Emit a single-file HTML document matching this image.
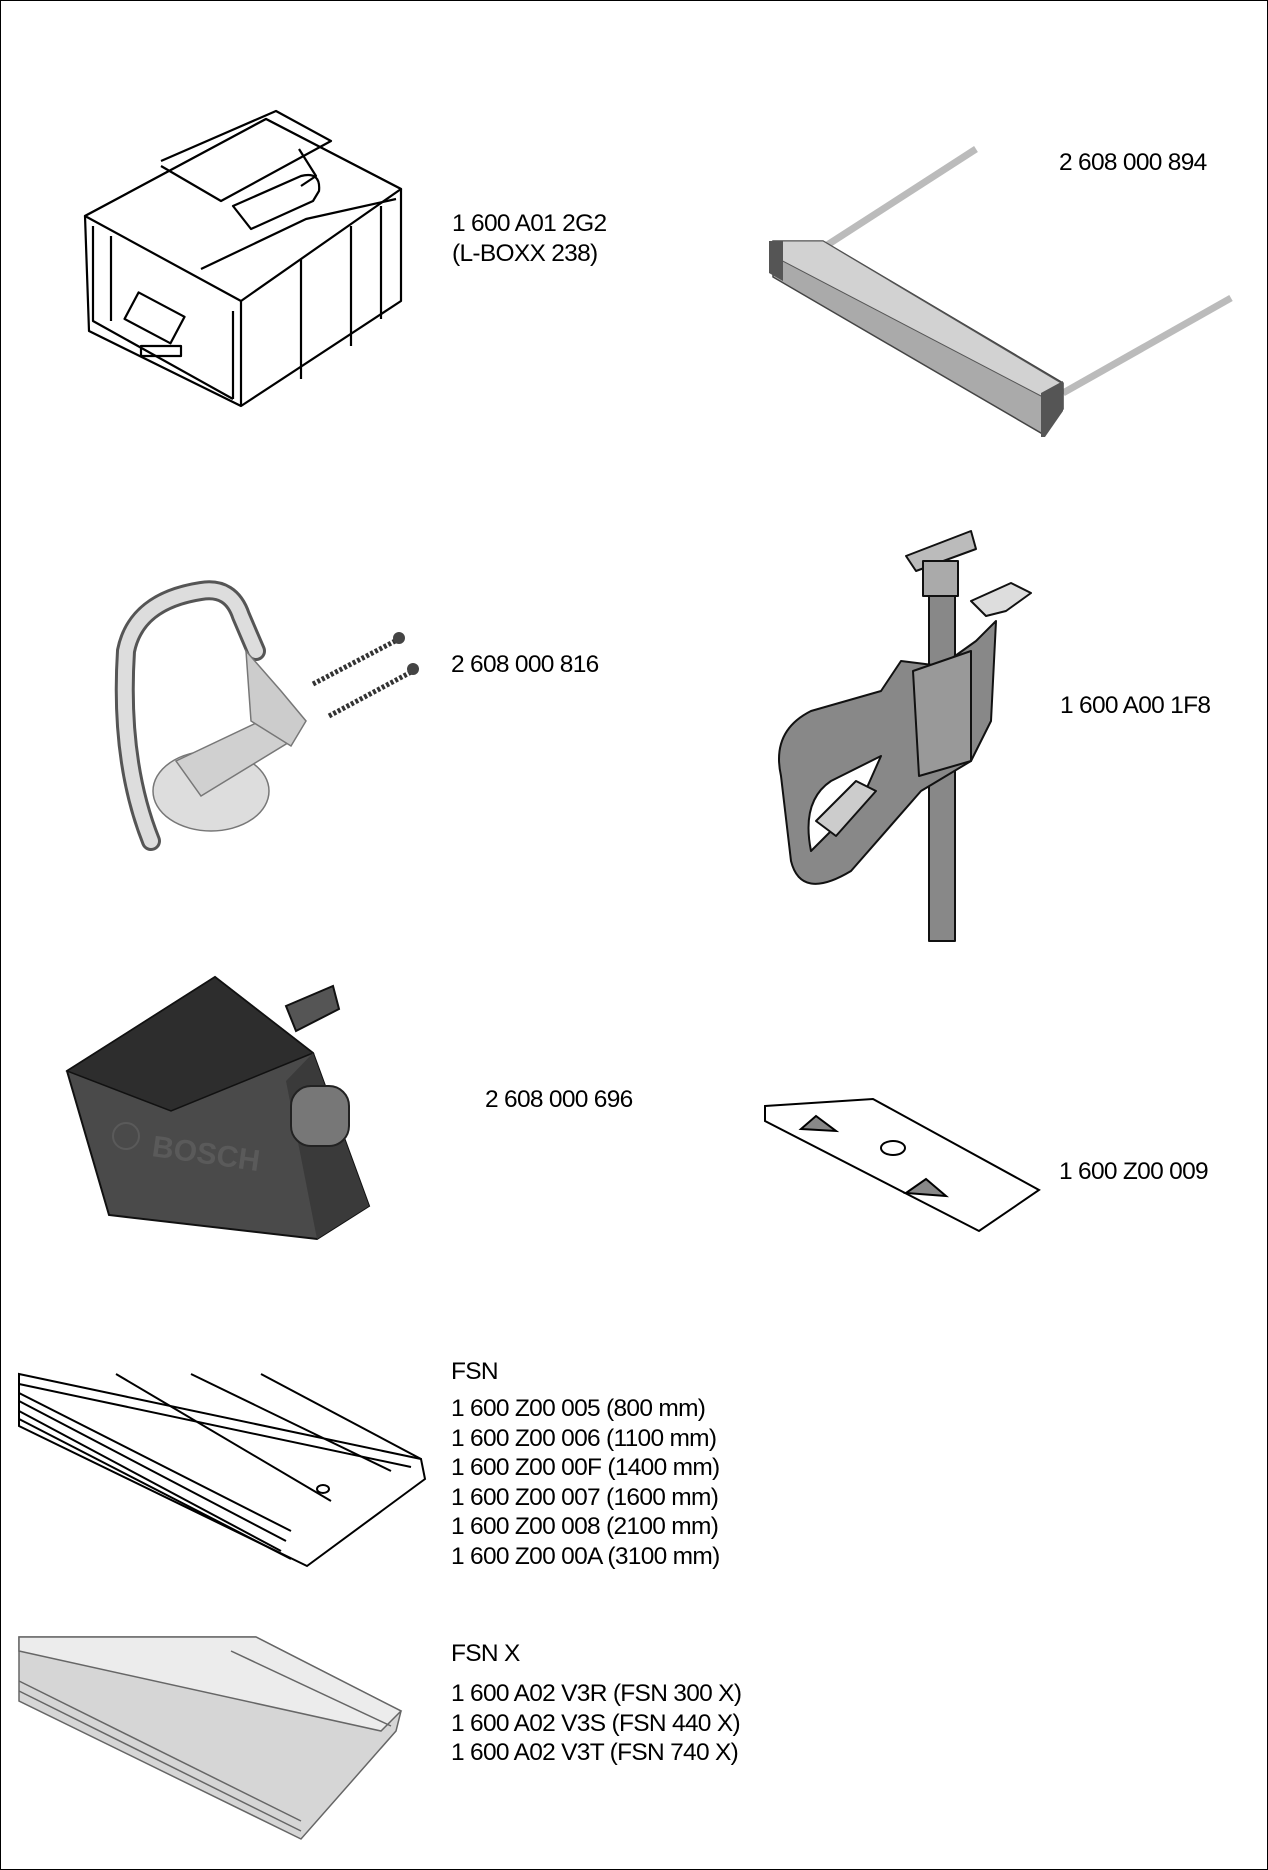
<!DOCTYPE html>
<html><head><meta charset="utf-8"><style>
html,body{margin:0;padding:0;background:#fff}
#p{position:relative;width:1266px;height:1868px;border:1px solid #000;overflow:hidden;font-family:"Liberation Sans",sans-serif;color:#000}
.t{position:absolute;font-size:24.5px;line-height:29.5px;white-space:nowrap;letter-spacing:-0.7px}
svg{position:absolute;left:0;top:0}
</style></head><body><div id="p">
<svg width="1268" height="1870" viewBox="0 0 1268 1870">
<g fill="#fff" stroke="#000" stroke-width="2.2" stroke-linejoin="round">
<polygon points="84,215 265,118 400,188 400,300 240,405 88,330"/>
<polygon points="84,215 240,300 400,188 265,118"/>
<polyline points="240,300 240,405" fill="none"/>
<polyline points="92,225 92,320 232,398" fill="none"/>
<polyline points="232,310 232,398" fill="none"/>
<polyline points="160,160 275,110 330,140 220,200 160,165" fill="none"/>
<path d="M232,205 L300,175 Q320,170 318,190 L312,200 L250,228 Z" fill="none"/>
<polyline points="298,148 315,175 300,185" fill="none"/>
<rect x="128" y="300" width="52" height="30" transform="rotate(28 150 315)" fill="none"/>
<polyline points="110,235 110,320" fill="none"/>
<polyline points="300,258 300,378" fill="none"/>
<polyline points="350,225 350,345" fill="none"/>
<polyline points="380,205 380,318" fill="none"/>
<polyline points="200,268 305,218 395,198" fill="none"/>
<rect x="140" y="345" width="40" height="10" fill="none"/>
</g>
<g>
<line x1="820" y1="248" x2="975" y2="148" stroke="#bbb" stroke-width="7"/>
<line x1="1062" y1="392" x2="1230" y2="297" stroke="#bbb" stroke-width="7"/>
<polygon points="772,240 822,240 1062,382 1062,408 1040,432 772,276" fill="#aaa" stroke="#444" stroke-width="1.5"/>
<polygon points="772,240 822,240 1060,382 1040,395 772,255" fill="#d2d2d2" stroke="#555" stroke-width="1"/>
<polygon points="768,240 782,240 782,280 768,272" fill="#555"/>
<polygon points="1040,392 1062,380 1062,410 1044,436 1040,436" fill="#555"/>
</g>
<g>
<path d="M150,840 Q118,760 125,650 Q135,600 200,590 Q230,585 240,615 L255,650" fill="none" stroke="#555" stroke-width="20" stroke-linecap="round"/>
<path d="M150,840 Q118,760 125,650 Q135,600 200,590 Q230,585 240,615 L255,650" fill="none" stroke="#ddd" stroke-width="14" stroke-linecap="round"/>
<ellipse cx="210" cy="790" rx="58" ry="40" fill="#ddd" stroke="#777" stroke-width="1.5"/>
<path d="M175,760 L270,715 L290,740 L200,795 Z" fill="#d0d0d0" stroke="#777" stroke-width="1.5"/>
<path d="M245,650 L280,690 L305,720 L290,745 L250,720 Z" fill="#ccc" stroke="#777" stroke-width="1.5"/>
<line x1="312" y1="683" x2="398" y2="638" stroke="#333" stroke-width="5" stroke-dasharray="3 2"/>
<line x1="328" y1="715" x2="412" y2="670" stroke="#333" stroke-width="5" stroke-dasharray="3 2"/>
<circle cx="398" cy="637" r="6" fill="#444"/><circle cx="412" cy="668" r="6" fill="#444"/>
</g>
<g stroke="#111" stroke-width="2" stroke-linejoin="round">
<rect x="928" y="560" width="26" height="380" fill="#888"/>
<polygon points="905,555 970,530 975,548 915,570" fill="#bbb"/>
<rect x="922" y="560" width="35" height="35" fill="#aaa"/>
<polygon points="970,600 1010,582 1030,592 1005,610 985,615" fill="#ddd"/>
<path d="M780,775 Q770,730 810,710 L880,690 L900,660 L940,665 L975,640 L995,620 L990,720 L970,760 L920,790 L850,870 Q800,900 790,860 Z" fill="#888"/>
<path d="M810,850 Q800,800 830,780 L880,755 L860,800 L830,830 Z" fill="#fff"/>
<polygon points="815,820 855,780 875,790 835,835" fill="#ccc"/>
<polygon points="912,670 970,650 970,760 918,775" fill="#999"/>
</g>
<g>
<polygon points="285,1005 332,985 338,1008 295,1030" fill="#555" stroke="#111" stroke-width="2"/>
<polygon points="66,1070 214,976 312,1052 368,1205 316,1238 108,1214" fill="#4a4a4a" stroke="#111" stroke-width="2"/>
<polygon points="66,1070 214,976 312,1052 170,1110" fill="#2d2d2d" stroke="#111" stroke-width="1.5"/>
<polygon points="312,1052 368,1205 316,1238 285,1080" fill="#3a3a3a"/>
<rect x="290" y="1085" width="58" height="60" rx="20" fill="#777" stroke="#222" stroke-width="2"/>
<text x="150" y="1155" font-family="Liberation Sans" font-weight="bold" font-size="30" fill="#5a5a5a" transform="rotate(8 150 1155)">BOSCH</text>
<circle cx="125" cy="1135" r="13" fill="none" stroke="#5a5a5a" stroke-width="2"/>
</g>
<g fill="#fff" stroke="#000" stroke-width="2">
<polygon points="764,1105 872,1098 1038,1189 978,1230 764,1120"/>
<ellipse cx="892" cy="1147" rx="12" ry="7"/>
<path d="M800,1128 L815,1115 L835,1130 Z" fill="#888"/>
<path d="M905,1192 L925,1178 L945,1195 Z" fill="#888"/>
</g>
<g stroke="#000" stroke-width="2" fill="#fff">
<polygon points="18,1373 420,1458 424,1478 306,1565 18,1425"/>
<line x1="18" y1="1383" x2="410" y2="1466"/>
<line x1="18" y1="1392" x2="290" y2="1530"/>
<line x1="18" y1="1400" x2="285" y2="1540"/>
<line x1="18" y1="1410" x2="280" y2="1550"/>
<line x1="18" y1="1418" x2="290" y2="1558"/>
<line x1="115" y1="1373" x2="330" y2="1500"/>
<line x1="190" y1="1373" x2="390" y2="1470"/>
<line x1="260" y1="1373" x2="420" y2="1458"/>
<ellipse cx="322" cy="1488" rx="6" ry="4"/>
</g>
<g stroke="#666" stroke-width="1.5">
<polygon points="18,1636 255,1636 400,1710 395,1730 300,1838 18,1700" fill="#d6d6d6"/>
<polygon points="18,1636 255,1636 400,1710 380,1730 18,1650" fill="#ececec"/>
<line x1="18" y1="1680" x2="300" y2="1820"/>
<line x1="18" y1="1690" x2="300" y2="1830"/>
<line x1="230" y1="1650" x2="390" y2="1725"/>
</g>
</svg>
<div class="t" style="left:451px;top:208px">1 600 A01 2G2<br>(L-BOXX 238)</div>
<div class="t" style="left:1058px;top:147px">2 608 000 894</div>
<div class="t" style="left:450px;top:649px">2 608 000 816</div>
<div class="t" style="left:1059px;top:690px">1 600 A00 1F8</div>
<div class="t" style="left:484px;top:1084px">2 608 000 696</div>
<div class="t" style="left:1058px;top:1156px">1 600 Z00 009</div>
<div class="t" style="left:450px;top:1356px">FSN</div>
<div class="t" style="left:450px;top:1393px">1 600 Z00 005 (800 mm)<br>1 600 Z00 006 (1100 mm)<br>1 600 Z00 00F (1400 mm)<br>1 600 Z00 007 (1600 mm)<br>1 600 Z00 008 (2100 mm)<br>1 600 Z00 00A (3100 mm)</div>
<div class="t" style="left:450px;top:1638px">FSN X</div>
<div class="t" style="left:450px;top:1678px">1 600 A02 V3R (FSN 300 X)<br>1 600 A02 V3S (FSN 440 X)<br>1 600 A02 V3T (FSN 740 X)</div>
</div></body></html>
